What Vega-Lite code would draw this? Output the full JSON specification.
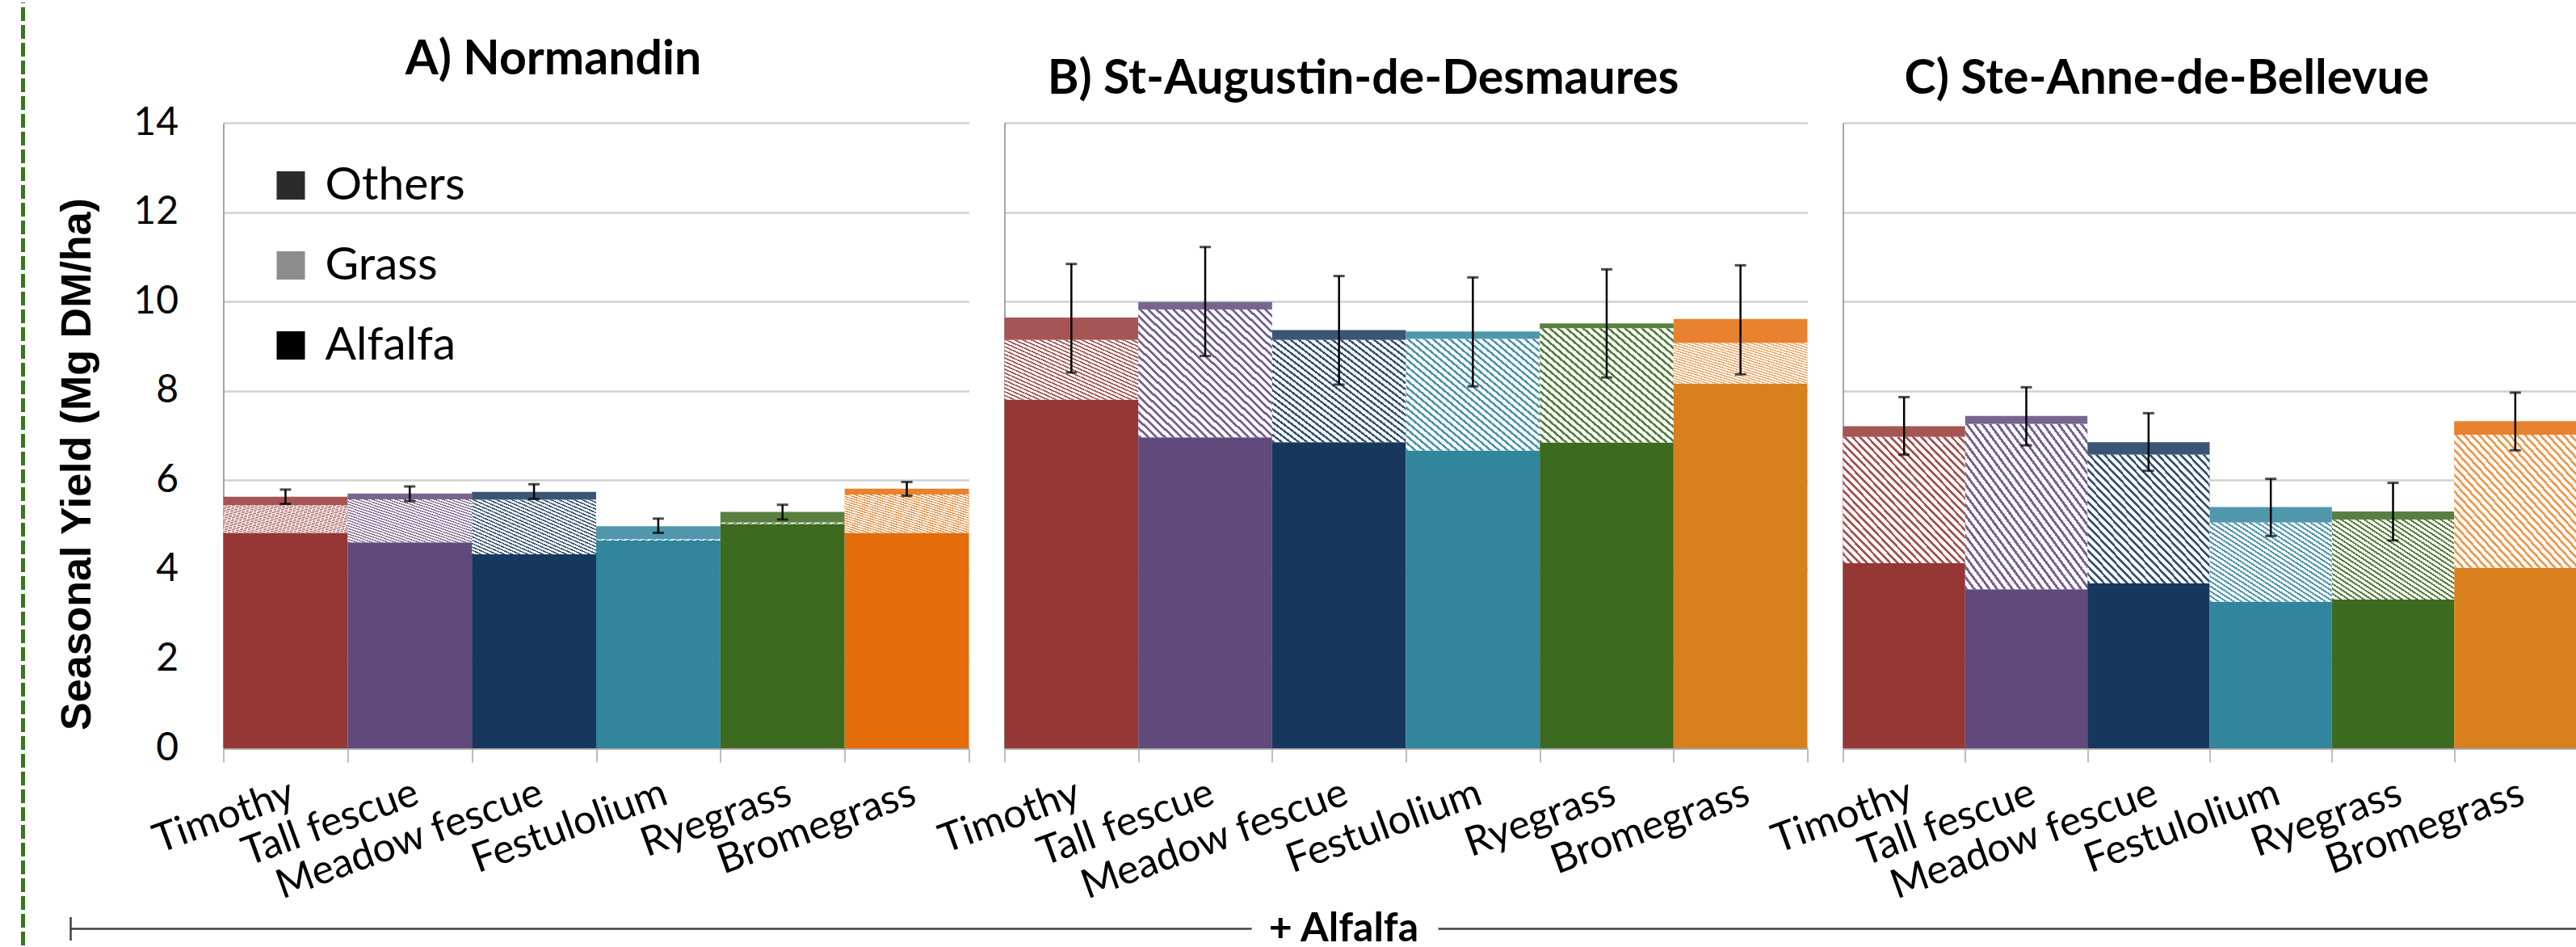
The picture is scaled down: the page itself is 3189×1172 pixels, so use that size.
{
  "$schema": "https://vega.github.io/schema/vega-lite/v6.json",
  "background": "white",
  "autosize": {"type": "pad"},
  "padding": {"left": 25.5, "top": 0, "right": 0, "bottom": 0},
  "config": {"view": {"stroke": null}, "font": "Lato"},
  "datasets": {
    "yield": [
      {"site": "Normandin", "species": "Timothy", "component": "Alfalfa", "yield": 4.82},
      {"site": "Normandin", "species": "Timothy", "component": "Grass", "yield": 0.62},
      {"site": "Normandin", "species": "Timothy", "component": "Others", "yield": 0.19},
      {"site": "Normandin", "species": "Tall fescue", "component": "Alfalfa", "yield": 4.61},
      {"site": "Normandin", "species": "Tall fescue", "component": "Grass", "yield": 0.96},
      {"site": "Normandin", "species": "Tall fescue", "component": "Others", "yield": 0.13},
      {"site": "Normandin", "species": "Meadow fescue", "component": "Alfalfa", "yield": 4.34},
      {"site": "Normandin", "species": "Meadow fescue", "component": "Grass", "yield": 1.22},
      {"site": "Normandin", "species": "Meadow fescue", "component": "Others", "yield": 0.18},
      {"site": "Normandin", "species": "Festulolium", "component": "Alfalfa", "yield": 4.65},
      {"site": "Normandin", "species": "Festulolium", "component": "Grass", "yield": 0.03},
      {"site": "Normandin", "species": "Festulolium", "component": "Others", "yield": 0.29},
      {"site": "Normandin", "species": "Ryegrass", "component": "Alfalfa", "yield": 5.02},
      {"site": "Normandin", "species": "Ryegrass", "component": "Grass", "yield": 0.03},
      {"site": "Normandin", "species": "Ryegrass", "component": "Others", "yield": 0.24},
      {"site": "Normandin", "species": "Bromegrass", "component": "Alfalfa", "yield": 4.82},
      {"site": "Normandin", "species": "Bromegrass", "component": "Grass", "yield": 0.86},
      {"site": "Normandin", "species": "Bromegrass", "component": "Others", "yield": 0.13},
      {"site": "St-Augustin-de-Desmaures", "species": "Timothy", "component": "Alfalfa", "yield": 7.80},
      {"site": "St-Augustin-de-Desmaures", "species": "Timothy", "component": "Grass", "yield": 1.34},
      {"site": "St-Augustin-de-Desmaures", "species": "Timothy", "component": "Others", "yield": 0.50},
      {"site": "St-Augustin-de-Desmaures", "species": "Tall fescue", "component": "Alfalfa", "yield": 6.96},
      {"site": "St-Augustin-de-Desmaures", "species": "Tall fescue", "component": "Grass", "yield": 2.86},
      {"site": "St-Augustin-de-Desmaures", "species": "Tall fescue", "component": "Others", "yield": 0.17},
      {"site": "St-Augustin-de-Desmaures", "species": "Meadow fescue", "component": "Alfalfa", "yield": 6.85},
      {"site": "St-Augustin-de-Desmaures", "species": "Meadow fescue", "component": "Grass", "yield": 2.29},
      {"site": "St-Augustin-de-Desmaures", "species": "Meadow fescue", "component": "Others", "yield": 0.22},
      {"site": "St-Augustin-de-Desmaures", "species": "Festulolium", "component": "Alfalfa", "yield": 6.66},
      {"site": "St-Augustin-de-Desmaures", "species": "Festulolium", "component": "Grass", "yield": 2.50},
      {"site": "St-Augustin-de-Desmaures", "species": "Festulolium", "component": "Others", "yield": 0.17},
      {"site": "St-Augustin-de-Desmaures", "species": "Ryegrass", "component": "Alfalfa", "yield": 6.84},
      {"site": "St-Augustin-de-Desmaures", "species": "Ryegrass", "component": "Grass", "yield": 2.56},
      {"site": "St-Augustin-de-Desmaures", "species": "Ryegrass", "component": "Others", "yield": 0.11},
      {"site": "St-Augustin-de-Desmaures", "species": "Bromegrass", "component": "Alfalfa", "yield": 8.16},
      {"site": "St-Augustin-de-Desmaures", "species": "Bromegrass", "component": "Grass", "yield": 0.91},
      {"site": "St-Augustin-de-Desmaures", "species": "Bromegrass", "component": "Others", "yield": 0.54},
      {"site": "Ste-Anne-de-Bellevue", "species": "Timothy", "component": "Alfalfa", "yield": 4.14},
      {"site": "Ste-Anne-de-Bellevue", "species": "Timothy", "component": "Grass", "yield": 2.83},
      {"site": "Ste-Anne-de-Bellevue", "species": "Timothy", "component": "Others", "yield": 0.24},
      {"site": "Ste-Anne-de-Bellevue", "species": "Tall fescue", "component": "Alfalfa", "yield": 3.56},
      {"site": "Ste-Anne-de-Bellevue", "species": "Tall fescue", "component": "Grass", "yield": 3.70},
      {"site": "Ste-Anne-de-Bellevue", "species": "Tall fescue", "component": "Others", "yield": 0.18},
      {"site": "Ste-Anne-de-Bellevue", "species": "Meadow fescue", "component": "Alfalfa", "yield": 3.69},
      {"site": "Ste-Anne-de-Bellevue", "species": "Meadow fescue", "component": "Grass", "yield": 2.88},
      {"site": "Ste-Anne-de-Bellevue", "species": "Meadow fescue", "component": "Others", "yield": 0.28},
      {"site": "Ste-Anne-de-Bellevue", "species": "Festulolium", "component": "Alfalfa", "yield": 3.28},
      {"site": "Ste-Anne-de-Bellevue", "species": "Festulolium", "component": "Grass", "yield": 1.77},
      {"site": "Ste-Anne-de-Bellevue", "species": "Festulolium", "component": "Others", "yield": 0.35},
      {"site": "Ste-Anne-de-Bellevue", "species": "Ryegrass", "component": "Alfalfa", "yield": 3.33},
      {"site": "Ste-Anne-de-Bellevue", "species": "Ryegrass", "component": "Grass", "yield": 1.79},
      {"site": "Ste-Anne-de-Bellevue", "species": "Ryegrass", "component": "Others", "yield": 0.18},
      {"site": "Ste-Anne-de-Bellevue", "species": "Bromegrass", "component": "Alfalfa", "yield": 4.04},
      {"site": "Ste-Anne-de-Bellevue", "species": "Bromegrass", "component": "Grass", "yield": 2.98},
      {"site": "Ste-Anne-de-Bellevue", "species": "Bromegrass", "component": "Others", "yield": 0.30}
    ],
    "err": [
      {"site": "Normandin", "species": "Timothy", "lo": 5.47, "hi": 5.79},
      {"site": "Normandin", "species": "Tall fescue", "lo": 5.53, "hi": 5.86},
      {"site": "Normandin", "species": "Meadow fescue", "lo": 5.58, "hi": 5.91},
      {"site": "Normandin", "species": "Festulolium", "lo": 4.82, "hi": 5.14},
      {"site": "Normandin", "species": "Ryegrass", "lo": 5.12, "hi": 5.45},
      {"site": "Normandin", "species": "Bromegrass", "lo": 5.65, "hi": 5.96},
      {"site": "St-Augustin-de-Desmaures", "species": "Timothy", "lo": 8.41, "hi": 10.84},
      {"site": "St-Augustin-de-Desmaures", "species": "Tall fescue", "lo": 8.78, "hi": 11.22},
      {"site": "St-Augustin-de-Desmaures", "species": "Meadow fescue", "lo": 8.14, "hi": 10.57},
      {"site": "St-Augustin-de-Desmaures", "species": "Festulolium", "lo": 8.10, "hi": 10.54},
      {"site": "St-Augustin-de-Desmaures", "species": "Ryegrass", "lo": 8.30, "hi": 10.72},
      {"site": "St-Augustin-de-Desmaures", "species": "Bromegrass", "lo": 8.37, "hi": 10.81},
      {"site": "Ste-Anne-de-Bellevue", "species": "Timothy", "lo": 6.57, "hi": 7.86},
      {"site": "Ste-Anne-de-Bellevue", "species": "Tall fescue", "lo": 6.78, "hi": 8.08},
      {"site": "Ste-Anne-de-Bellevue", "species": "Meadow fescue", "lo": 6.21, "hi": 7.50},
      {"site": "Ste-Anne-de-Bellevue", "species": "Festulolium", "lo": 4.75, "hi": 6.03},
      {"site": "Ste-Anne-de-Bellevue", "species": "Ryegrass", "lo": 4.65, "hi": 5.94},
      {"site": "Ste-Anne-de-Bellevue", "species": "Bromegrass", "lo": 6.67, "hi": 7.96}
    ],
    "bracket": [{"label": "+ Alfalfa"}],
    "border": [{"edge": "figure"}]
  },
  "spacing": 38,
  "hconcat": [
    {
      "width": 1,
      "height": 1167,
      "data": {"name": "border"},
      "mark": {"type": "rule", "color": "#38761d", "strokeWidth": 5, "strokeDash": [17, 5]},
      "encoding": {
        "x": {"datum": 0, "type": "quantitative", "scale": {"domain": [0, 1]}, "axis": null},
        "y": {"datum": 0, "type": "quantitative", "scale": {"domain": [0, 1]}, "axis": null},
        "y2": {"datum": 1}
      }
    },
    {
      "spacing": 2,
      "vconcat": [
        {"width": 1, "height": 40, "data": {"values": []}, "mark": "point"},
        {
          "spacing": 44,
          "bounds": "flush",
          "resolve": {"scale": {"color": "independent"}, "legend": {"color": "independent"}},
          "hconcat": [
            {
              "width": 923,
              "height": 774,
              "title": {"text": "A) Normandin", "font": "Lato", "fontSize": 59, "fontWeight": "bold", "color": "black", "anchor": "middle", "dx": -53, "offset": 24},
              "encoding": {
                "x": {
                  "field": "species", "type": "nominal",
                  "sort": ["Timothy", "Tall fescue", "Meadow fescue", "Festulolium", "Ryegrass", "Bromegrass"],
                  "scale": {"paddingInner": 0, "paddingOuter": 0},
                  "axis": {"title": null, "labelAngle": -20, "labelAlign": "right", "labelBaseline": "top", "labelFont": "Lato", "labelFontSize": 50, "labelColor": "black", "labelPadding": 13, "labelLimit": 600, "labelOverlap": false, "ticks": true, "tickSize": 17, "tickColor": "#a6a6a6", "tickWidth": 1.5, "tickBand": "extent", "domain": true, "domainColor": "#a6a6a6", "domainWidth": 2.5, "grid": false}
                }
              },
              "layer": [
                {
                  "data": {"name": "yield"},
                  "transform": [{"filter": "datum.site === 'Normandin'"}],
                  "mark": {"type": "bar"},
                  "encoding": {
                    "y": {
                      "field": "yield", "type": "quantitative", "stack": "zero",
                      "scale": {"domain": [0, 14], "nice": false},
                      "title": "Seasonal Yield (Mg DM/ha)",
                      "axis": {"values": [0, 2, 4, 6, 8, 10, 12, 14], "format": "d", "grid": true, "gridColor": "#d0d0d0", "gridWidth": 2.5, "domain": true, "domainColor": "#a6a6a6", "domainWidth": 2, "ticks": false, "tickSize": 0, "labelFont": "Lato", "labelFontSize": 48, "labelColor": "black", "labelPadding": 56, "titleFont": "Liberation Sans", "titleFontSize": 52, "titleFontWeight": "bold", "titleColor": "black", "titlePadding": 42, "titleY": 422}
                    },
                    "order": {"field": "component", "sort": "ascending"},
                    "color": {
                      "field": "component", "type": "nominal",
                      "scale": {"domain": ["Others", "Grass", "Alfalfa"], "range": ["#2b2b2b", "#8c8c8c", "#000000"]},
                      "legend": {"title": null, "orient": "none", "legendX": 55, "legendY": 49, "symbolType": "square", "symbolSize": 1225, "symbolStrokeWidth": 0, "labelFont": "Lato", "labelFontSize": 57, "labelColor": "black", "labelOffset": 14, "rowPadding": 41, "padding": 0, "labelLimit": 500},
                      "condition": [
                        {"test": "datum.species==='Timothy'&&datum.component==='Alfalfa'", "value": "#953735"},
                        {"test": "datum.species==='Timothy'&&datum.component==='Grass'", "value": "#A55553"},
                        {"test": "datum.species==='Timothy'&&datum.component==='Others'", "value": "#A55553"},
                        {"test": "datum.species==='Tall fescue'&&datum.component==='Alfalfa'", "value": "#604A7B"},
                        {"test": "datum.species==='Tall fescue'&&datum.component==='Grass'", "value": "#78658F"},
                        {"test": "datum.species==='Tall fescue'&&datum.component==='Others'", "value": "#78658F"},
                        {"test": "datum.species==='Meadow fescue'&&datum.component==='Alfalfa'", "value": "#17375E"},
                        {"test": "datum.species==='Meadow fescue'&&datum.component==='Grass'", "value": "#3A5576"},
                        {"test": "datum.species==='Meadow fescue'&&datum.component==='Others'", "value": "#3A5576"},
                        {"test": "datum.species==='Festulolium'&&datum.component==='Alfalfa'", "value": "#31859C"},
                        {"test": "datum.species==='Festulolium'&&datum.component==='Grass'", "value": "#5097AB"},
                        {"test": "datum.species==='Festulolium'&&datum.component==='Others'", "value": "#5097AB"},
                        {"test": "datum.species==='Ryegrass'&&datum.component==='Alfalfa'", "value": "#3C6A1F"},
                        {"test": "datum.species==='Ryegrass'&&datum.component==='Grass'", "value": "#598041"},
                        {"test": "datum.species==='Ryegrass'&&datum.component==='Others'", "value": "#598041"},
                        {"test": "datum.species==='Bromegrass'&&datum.component==='Alfalfa'", "value": "#E46C0A"},
                        {"test": "datum.species==='Bromegrass'&&datum.component==='Grass'", "value": "#E8822F"},
                        {"test": "datum.species==='Bromegrass'&&datum.component==='Others'", "value": "#E8822F"}
                      ]
                    }
                  }
                },
                {
                  "data": {"name": "yield"},
                  "transform": [{"filter": "datum.site === 'Normandin'"}],
                  "mark": {"type": "bar"},
                  "encoding": {
                    "y": {"field": "yield", "type": "quantitative", "stack": "zero", "title": "Seasonal Yield (Mg DM/ha)"},
                    "detail": {"field": "component"},
                    "order": {"field": "component", "sort": "ascending"},
                    "color": {
                      "condition": {"test": "datum.component === 'Grass'", "value": {"gradient": "linear", "x1": 0, "y1": 1, "x2": 1, "y2": 0, "stops": [
                        {"offset": 0, "color": "rgba(255,255,255,0)"}, {"offset": 0.0125, "color": "rgba(255,255,255,0)"}, {"offset": 0.0125, "color": "#fff"}, {"offset": 0.03125, "color": "#fff"},
                        {"offset": 0.03125, "color": "rgba(255,255,255,0)"}, {"offset": 0.04375, "color": "rgba(255,255,255,0)"}, {"offset": 0.04375, "color": "#fff"}, {"offset": 0.0625, "color": "#fff"},
                        {"offset": 0.0625, "color": "rgba(255,255,255,0)"}, {"offset": 0.075, "color": "rgba(255,255,255,0)"}, {"offset": 0.075, "color": "#fff"}, {"offset": 0.09375, "color": "#fff"},
                        {"offset": 0.09375, "color": "rgba(255,255,255,0)"}, {"offset": 0.10625, "color": "rgba(255,255,255,0)"}, {"offset": 0.10625, "color": "#fff"}, {"offset": 0.125, "color": "#fff"},
                        {"offset": 0.125, "color": "rgba(255,255,255,0)"}, {"offset": 0.1375, "color": "rgba(255,255,255,0)"}, {"offset": 0.1375, "color": "#fff"}, {"offset": 0.15625, "color": "#fff"},
                        {"offset": 0.15625, "color": "rgba(255,255,255,0)"}, {"offset": 0.16875, "color": "rgba(255,255,255,0)"}, {"offset": 0.16875, "color": "#fff"}, {"offset": 0.1875, "color": "#fff"},
                        {"offset": 0.1875, "color": "rgba(255,255,255,0)"}, {"offset": 0.2, "color": "rgba(255,255,255,0)"}, {"offset": 0.2, "color": "#fff"}, {"offset": 0.21875, "color": "#fff"},
                        {"offset": 0.21875, "color": "rgba(255,255,255,0)"}, {"offset": 0.23125, "color": "rgba(255,255,255,0)"}, {"offset": 0.23125, "color": "#fff"}, {"offset": 0.25, "color": "#fff"},
                        {"offset": 0.25, "color": "rgba(255,255,255,0)"}, {"offset": 0.2625, "color": "rgba(255,255,255,0)"}, {"offset": 0.2625, "color": "#fff"}, {"offset": 0.28125, "color": "#fff"},
                        {"offset": 0.28125, "color": "rgba(255,255,255,0)"}, {"offset": 0.29375, "color": "rgba(255,255,255,0)"}, {"offset": 0.29375, "color": "#fff"}, {"offset": 0.3125, "color": "#fff"},
                        {"offset": 0.3125, "color": "rgba(255,255,255,0)"}, {"offset": 0.325, "color": "rgba(255,255,255,0)"}, {"offset": 0.325, "color": "#fff"}, {"offset": 0.34375, "color": "#fff"},
                        {"offset": 0.34375, "color": "rgba(255,255,255,0)"}, {"offset": 0.35625, "color": "rgba(255,255,255,0)"}, {"offset": 0.35625, "color": "#fff"}, {"offset": 0.375, "color": "#fff"},
                        {"offset": 0.375, "color": "rgba(255,255,255,0)"}, {"offset": 0.3875, "color": "rgba(255,255,255,0)"}, {"offset": 0.3875, "color": "#fff"}, {"offset": 0.40625, "color": "#fff"},
                        {"offset": 0.40625, "color": "rgba(255,255,255,0)"}, {"offset": 0.41875, "color": "rgba(255,255,255,0)"}, {"offset": 0.41875, "color": "#fff"}, {"offset": 0.4375, "color": "#fff"},
                        {"offset": 0.4375, "color": "rgba(255,255,255,0)"}, {"offset": 0.45, "color": "rgba(255,255,255,0)"}, {"offset": 0.45, "color": "#fff"}, {"offset": 0.46875, "color": "#fff"},
                        {"offset": 0.46875, "color": "rgba(255,255,255,0)"}, {"offset": 0.48125, "color": "rgba(255,255,255,0)"}, {"offset": 0.48125, "color": "#fff"}, {"offset": 0.5, "color": "#fff"},
                        {"offset": 0.5, "color": "rgba(255,255,255,0)"}, {"offset": 0.5125, "color": "rgba(255,255,255,0)"}, {"offset": 0.5125, "color": "#fff"}, {"offset": 0.53125, "color": "#fff"},
                        {"offset": 0.53125, "color": "rgba(255,255,255,0)"}, {"offset": 0.54375, "color": "rgba(255,255,255,0)"}, {"offset": 0.54375, "color": "#fff"}, {"offset": 0.5625, "color": "#fff"},
                        {"offset": 0.5625, "color": "rgba(255,255,255,0)"}, {"offset": 0.575, "color": "rgba(255,255,255,0)"}, {"offset": 0.575, "color": "#fff"}, {"offset": 0.59375, "color": "#fff"},
                        {"offset": 0.59375, "color": "rgba(255,255,255,0)"}, {"offset": 0.60625, "color": "rgba(255,255,255,0)"}, {"offset": 0.60625, "color": "#fff"}, {"offset": 0.625, "color": "#fff"},
                        {"offset": 0.625, "color": "rgba(255,255,255,0)"}, {"offset": 0.6375, "color": "rgba(255,255,255,0)"}, {"offset": 0.6375, "color": "#fff"}, {"offset": 0.65625, "color": "#fff"},
                        {"offset": 0.65625, "color": "rgba(255,255,255,0)"}, {"offset": 0.66875, "color": "rgba(255,255,255,0)"}, {"offset": 0.66875, "color": "#fff"}, {"offset": 0.6875, "color": "#fff"},
                        {"offset": 0.6875, "color": "rgba(255,255,255,0)"}, {"offset": 0.7, "color": "rgba(255,255,255,0)"}, {"offset": 0.7, "color": "#fff"}, {"offset": 0.71875, "color": "#fff"},
                        {"offset": 0.71875, "color": "rgba(255,255,255,0)"}, {"offset": 0.73125, "color": "rgba(255,255,255,0)"}, {"offset": 0.73125, "color": "#fff"}, {"offset": 0.75, "color": "#fff"},
                        {"offset": 0.75, "color": "rgba(255,255,255,0)"}, {"offset": 0.7625, "color": "rgba(255,255,255,0)"}, {"offset": 0.7625, "color": "#fff"}, {"offset": 0.78125, "color": "#fff"},
                        {"offset": 0.78125, "color": "rgba(255,255,255,0)"}, {"offset": 0.79375, "color": "rgba(255,255,255,0)"}, {"offset": 0.79375, "color": "#fff"}, {"offset": 0.8125, "color": "#fff"},
                        {"offset": 0.8125, "color": "rgba(255,255,255,0)"}, {"offset": 0.825, "color": "rgba(255,255,255,0)"}, {"offset": 0.825, "color": "#fff"}, {"offset": 0.84375, "color": "#fff"},
                        {"offset": 0.84375, "color": "rgba(255,255,255,0)"}, {"offset": 0.85625, "color": "rgba(255,255,255,0)"}, {"offset": 0.85625, "color": "#fff"}, {"offset": 0.875, "color": "#fff"},
                        {"offset": 0.875, "color": "rgba(255,255,255,0)"}, {"offset": 0.8875, "color": "rgba(255,255,255,0)"}, {"offset": 0.8875, "color": "#fff"}, {"offset": 0.90625, "color": "#fff"},
                        {"offset": 0.90625, "color": "rgba(255,255,255,0)"}, {"offset": 0.91875, "color": "rgba(255,255,255,0)"}, {"offset": 0.91875, "color": "#fff"}, {"offset": 0.9375, "color": "#fff"},
                        {"offset": 0.9375, "color": "rgba(255,255,255,0)"}, {"offset": 0.95, "color": "rgba(255,255,255,0)"}, {"offset": 0.95, "color": "#fff"}, {"offset": 0.96875, "color": "#fff"},
                        {"offset": 0.96875, "color": "rgba(255,255,255,0)"}, {"offset": 0.98125, "color": "rgba(255,255,255,0)"}, {"offset": 0.98125, "color": "#fff"}, {"offset": 1, "color": "#fff"}
                      ]}},
                      "value": "transparent"
                    }
                  }
                },
                {
                  "data": {"name": "err"},
                  "transform": [{"filter": "datum.site === 'Normandin'"}],
                  "mark": {"type": "rule", "color": "black", "strokeWidth": 2.5},
                  "encoding": {"y": {"field": "lo", "type": "quantitative", "title": "Seasonal Yield (Mg DM/ha)"}, "y2": {"field": "hi"}}
                },
                {
                  "data": {"name": "err"},
                  "transform": [{"filter": "datum.site === 'Normandin'"}],
                  "mark": {"type": "tick", "color": "black", "thickness": 3, "size": 14},
                  "encoding": {"y": {"field": "lo", "type": "quantitative", "title": "Seasonal Yield (Mg DM/ha)"}}
                },
                {
                  "data": {"name": "err"},
                  "transform": [{"filter": "datum.site === 'Normandin'"}],
                  "mark": {"type": "tick", "color": "black", "thickness": 3, "size": 14},
                  "encoding": {"y": {"field": "hi", "type": "quantitative", "title": "Seasonal Yield (Mg DM/ha)"}}
                }
              ]
            },
            {
              "width": 994,
              "height": 774,
              "title": {"text": "B) St-Augustin-de-Desmaures", "font": "Lato", "fontSize": 59, "fontWeight": "bold", "color": "black", "anchor": "middle", "dx": -53, "offset": 24},
              "encoding": {
                "x": {
                  "field": "species", "type": "nominal",
                  "sort": ["Timothy", "Tall fescue", "Meadow fescue", "Festulolium", "Ryegrass", "Bromegrass"],
                  "scale": {"paddingInner": 0, "paddingOuter": 0},
                  "axis": {"title": null, "labelAngle": -20, "labelAlign": "right", "labelBaseline": "top", "labelFont": "Lato", "labelFontSize": 50, "labelColor": "black", "labelPadding": 13, "labelLimit": 600, "labelOverlap": false, "ticks": true, "tickSize": 17, "tickColor": "#a6a6a6", "tickWidth": 1.5, "tickBand": "extent", "domain": true, "domainColor": "#a6a6a6", "domainWidth": 2.5, "grid": false}
                }
              },
              "layer": [
                {
                  "data": {"name": "yield"},
                  "transform": [{"filter": "datum.site === 'St-Augustin-de-Desmaures'"}],
                  "mark": {"type": "bar"},
                  "encoding": {
                    "y": {
                      "field": "yield", "type": "quantitative", "stack": "zero",
                      "scale": {"domain": [0, 14], "nice": false},
                      "title": null,
                      "axis": {"values": [0, 2, 4, 6, 8, 10, 12, 14], "grid": true, "gridColor": "#d0d0d0", "gridWidth": 2.5, "domain": true, "domainColor": "#a6a6a6", "domainWidth": 2, "ticks": false, "tickSize": 0, "labels": false, "title": null}
                    },
                    "order": {"field": "component", "sort": "ascending"},
                    "color": {
                      "field": "component", "type": "nominal",
                      "scale": {"domain": ["Others", "Grass", "Alfalfa"], "range": ["#2b2b2b", "#8c8c8c", "#000000"]},
                      "legend": null,
                      "condition": [
                        {"test": "datum.species==='Timothy'&&datum.component==='Alfalfa'", "value": "#953735"},
                        {"test": "datum.species==='Timothy'&&datum.component==='Grass'", "value": "#A55553"},
                        {"test": "datum.species==='Timothy'&&datum.component==='Others'", "value": "#A55553"},
                        {"test": "datum.species==='Tall fescue'&&datum.component==='Alfalfa'", "value": "#604A7B"},
                        {"test": "datum.species==='Tall fescue'&&datum.component==='Grass'", "value": "#78658F"},
                        {"test": "datum.species==='Tall fescue'&&datum.component==='Others'", "value": "#78658F"},
                        {"test": "datum.species==='Meadow fescue'&&datum.component==='Alfalfa'", "value": "#17375E"},
                        {"test": "datum.species==='Meadow fescue'&&datum.component==='Grass'", "value": "#3A5576"},
                        {"test": "datum.species==='Meadow fescue'&&datum.component==='Others'", "value": "#3A5576"},
                        {"test": "datum.species==='Festulolium'&&datum.component==='Alfalfa'", "value": "#31859C"},
                        {"test": "datum.species==='Festulolium'&&datum.component==='Grass'", "value": "#5097AB"},
                        {"test": "datum.species==='Festulolium'&&datum.component==='Others'", "value": "#5097AB"},
                        {"test": "datum.species==='Ryegrass'&&datum.component==='Alfalfa'", "value": "#3C6A1F"},
                        {"test": "datum.species==='Ryegrass'&&datum.component==='Grass'", "value": "#598041"},
                        {"test": "datum.species==='Ryegrass'&&datum.component==='Others'", "value": "#598041"},
                        {"test": "datum.species==='Bromegrass'&&datum.component==='Alfalfa'", "value": "#D8801E"},
                        {"test": "datum.species==='Bromegrass'&&datum.component==='Grass'", "value": "#F09A50"},
                        {"test": "datum.species==='Bromegrass'&&datum.component==='Others'", "value": "#E8822F"}
                      ]
                    }
                  }
                },
                {
                  "data": {"name": "yield"},
                  "transform": [{"filter": "datum.site === 'St-Augustin-de-Desmaures'"}],
                  "mark": {"type": "bar"},
                  "encoding": {
                    "y": {"field": "yield", "type": "quantitative", "stack": "zero", "title": null},
                    "detail": {"field": "component"},
                    "order": {"field": "component", "sort": "ascending"},
                    "color": {
                      "condition": {"test": "datum.component === 'Grass'", "value": {"gradient": "linear", "x1": 0, "y1": 1, "x2": 1, "y2": 0, "stops": [
                        {"offset": 0, "color": "rgba(255,255,255,0)"}, {"offset": 0.0125, "color": "rgba(255,255,255,0)"}, {"offset": 0.0125, "color": "#fff"}, {"offset": 0.03125, "color": "#fff"},
                        {"offset": 0.03125, "color": "rgba(255,255,255,0)"}, {"offset": 0.04375, "color": "rgba(255,255,255,0)"}, {"offset": 0.04375, "color": "#fff"}, {"offset": 0.0625, "color": "#fff"},
                        {"offset": 0.0625, "color": "rgba(255,255,255,0)"}, {"offset": 0.075, "color": "rgba(255,255,255,0)"}, {"offset": 0.075, "color": "#fff"}, {"offset": 0.09375, "color": "#fff"},
                        {"offset": 0.09375, "color": "rgba(255,255,255,0)"}, {"offset": 0.10625, "color": "rgba(255,255,255,0)"}, {"offset": 0.10625, "color": "#fff"}, {"offset": 0.125, "color": "#fff"},
                        {"offset": 0.125, "color": "rgba(255,255,255,0)"}, {"offset": 0.1375, "color": "rgba(255,255,255,0)"}, {"offset": 0.1375, "color": "#fff"}, {"offset": 0.15625, "color": "#fff"},
                        {"offset": 0.15625, "color": "rgba(255,255,255,0)"}, {"offset": 0.16875, "color": "rgba(255,255,255,0)"}, {"offset": 0.16875, "color": "#fff"}, {"offset": 0.1875, "color": "#fff"},
                        {"offset": 0.1875, "color": "rgba(255,255,255,0)"}, {"offset": 0.2, "color": "rgba(255,255,255,0)"}, {"offset": 0.2, "color": "#fff"}, {"offset": 0.21875, "color": "#fff"},
                        {"offset": 0.21875, "color": "rgba(255,255,255,0)"}, {"offset": 0.23125, "color": "rgba(255,255,255,0)"}, {"offset": 0.23125, "color": "#fff"}, {"offset": 0.25, "color": "#fff"},
                        {"offset": 0.25, "color": "rgba(255,255,255,0)"}, {"offset": 0.2625, "color": "rgba(255,255,255,0)"}, {"offset": 0.2625, "color": "#fff"}, {"offset": 0.28125, "color": "#fff"},
                        {"offset": 0.28125, "color": "rgba(255,255,255,0)"}, {"offset": 0.29375, "color": "rgba(255,255,255,0)"}, {"offset": 0.29375, "color": "#fff"}, {"offset": 0.3125, "color": "#fff"},
                        {"offset": 0.3125, "color": "rgba(255,255,255,0)"}, {"offset": 0.325, "color": "rgba(255,255,255,0)"}, {"offset": 0.325, "color": "#fff"}, {"offset": 0.34375, "color": "#fff"},
                        {"offset": 0.34375, "color": "rgba(255,255,255,0)"}, {"offset": 0.35625, "color": "rgba(255,255,255,0)"}, {"offset": 0.35625, "color": "#fff"}, {"offset": 0.375, "color": "#fff"},
                        {"offset": 0.375, "color": "rgba(255,255,255,0)"}, {"offset": 0.3875, "color": "rgba(255,255,255,0)"}, {"offset": 0.3875, "color": "#fff"}, {"offset": 0.40625, "color": "#fff"},
                        {"offset": 0.40625, "color": "rgba(255,255,255,0)"}, {"offset": 0.41875, "color": "rgba(255,255,255,0)"}, {"offset": 0.41875, "color": "#fff"}, {"offset": 0.4375, "color": "#fff"},
                        {"offset": 0.4375, "color": "rgba(255,255,255,0)"}, {"offset": 0.45, "color": "rgba(255,255,255,0)"}, {"offset": 0.45, "color": "#fff"}, {"offset": 0.46875, "color": "#fff"},
                        {"offset": 0.46875, "color": "rgba(255,255,255,0)"}, {"offset": 0.48125, "color": "rgba(255,255,255,0)"}, {"offset": 0.48125, "color": "#fff"}, {"offset": 0.5, "color": "#fff"},
                        {"offset": 0.5, "color": "rgba(255,255,255,0)"}, {"offset": 0.5125, "color": "rgba(255,255,255,0)"}, {"offset": 0.5125, "color": "#fff"}, {"offset": 0.53125, "color": "#fff"},
                        {"offset": 0.53125, "color": "rgba(255,255,255,0)"}, {"offset": 0.54375, "color": "rgba(255,255,255,0)"}, {"offset": 0.54375, "color": "#fff"}, {"offset": 0.5625, "color": "#fff"},
                        {"offset": 0.5625, "color": "rgba(255,255,255,0)"}, {"offset": 0.575, "color": "rgba(255,255,255,0)"}, {"offset": 0.575, "color": "#fff"}, {"offset": 0.59375, "color": "#fff"},
                        {"offset": 0.59375, "color": "rgba(255,255,255,0)"}, {"offset": 0.60625, "color": "rgba(255,255,255,0)"}, {"offset": 0.60625, "color": "#fff"}, {"offset": 0.625, "color": "#fff"},
                        {"offset": 0.625, "color": "rgba(255,255,255,0)"}, {"offset": 0.6375, "color": "rgba(255,255,255,0)"}, {"offset": 0.6375, "color": "#fff"}, {"offset": 0.65625, "color": "#fff"},
                        {"offset": 0.65625, "color": "rgba(255,255,255,0)"}, {"offset": 0.66875, "color": "rgba(255,255,255,0)"}, {"offset": 0.66875, "color": "#fff"}, {"offset": 0.6875, "color": "#fff"},
                        {"offset": 0.6875, "color": "rgba(255,255,255,0)"}, {"offset": 0.7, "color": "rgba(255,255,255,0)"}, {"offset": 0.7, "color": "#fff"}, {"offset": 0.71875, "color": "#fff"},
                        {"offset": 0.71875, "color": "rgba(255,255,255,0)"}, {"offset": 0.73125, "color": "rgba(255,255,255,0)"}, {"offset": 0.73125, "color": "#fff"}, {"offset": 0.75, "color": "#fff"},
                        {"offset": 0.75, "color": "rgba(255,255,255,0)"}, {"offset": 0.7625, "color": "rgba(255,255,255,0)"}, {"offset": 0.7625, "color": "#fff"}, {"offset": 0.78125, "color": "#fff"},
                        {"offset": 0.78125, "color": "rgba(255,255,255,0)"}, {"offset": 0.79375, "color": "rgba(255,255,255,0)"}, {"offset": 0.79375, "color": "#fff"}, {"offset": 0.8125, "color": "#fff"},
                        {"offset": 0.8125, "color": "rgba(255,255,255,0)"}, {"offset": 0.825, "color": "rgba(255,255,255,0)"}, {"offset": 0.825, "color": "#fff"}, {"offset": 0.84375, "color": "#fff"},
                        {"offset": 0.84375, "color": "rgba(255,255,255,0)"}, {"offset": 0.85625, "color": "rgba(255,255,255,0)"}, {"offset": 0.85625, "color": "#fff"}, {"offset": 0.875, "color": "#fff"},
                        {"offset": 0.875, "color": "rgba(255,255,255,0)"}, {"offset": 0.8875, "color": "rgba(255,255,255,0)"}, {"offset": 0.8875, "color": "#fff"}, {"offset": 0.90625, "color": "#fff"},
                        {"offset": 0.90625, "color": "rgba(255,255,255,0)"}, {"offset": 0.91875, "color": "rgba(255,255,255,0)"}, {"offset": 0.91875, "color": "#fff"}, {"offset": 0.9375, "color": "#fff"},
                        {"offset": 0.9375, "color": "rgba(255,255,255,0)"}, {"offset": 0.95, "color": "rgba(255,255,255,0)"}, {"offset": 0.95, "color": "#fff"}, {"offset": 0.96875, "color": "#fff"},
                        {"offset": 0.96875, "color": "rgba(255,255,255,0)"}, {"offset": 0.98125, "color": "rgba(255,255,255,0)"}, {"offset": 0.98125, "color": "#fff"}, {"offset": 1, "color": "#fff"}
                      ]}},
                      "value": "transparent"
                    }
                  }
                },
                {
                  "data": {"name": "err"},
                  "transform": [{"filter": "datum.site === 'St-Augustin-de-Desmaures'"}],
                  "mark": {"type": "rule", "color": "black", "strokeWidth": 2.5},
                  "encoding": {"y": {"field": "lo", "type": "quantitative", "title": null}, "y2": {"field": "hi"}}
                },
                {
                  "data": {"name": "err"},
                  "transform": [{"filter": "datum.site === 'St-Augustin-de-Desmaures'"}],
                  "mark": {"type": "tick", "color": "black", "thickness": 3, "size": 14},
                  "encoding": {"y": {"field": "lo", "type": "quantitative", "title": null}}
                },
                {
                  "data": {"name": "err"},
                  "transform": [{"filter": "datum.site === 'St-Augustin-de-Desmaures'"}],
                  "mark": {"type": "tick", "color": "black", "thickness": 3, "size": 14},
                  "encoding": {"y": {"field": "hi", "type": "quantitative", "title": null}}
                }
              ]
            },
            {
              "width": 908,
              "height": 774,
              "title": {"text": "C) Ste-Anne-de-Bellevue", "font": "Lato", "fontSize": 59, "fontWeight": "bold", "color": "black", "anchor": "middle", "dx": -53, "offset": 24},
              "encoding": {
                "x": {
                  "field": "species", "type": "nominal",
                  "sort": ["Timothy", "Tall fescue", "Meadow fescue", "Festulolium", "Ryegrass", "Bromegrass"],
                  "scale": {"paddingInner": 0, "paddingOuter": 0},
                  "axis": {"title": null, "labelAngle": -20, "labelAlign": "right", "labelBaseline": "top", "labelFont": "Lato", "labelFontSize": 50, "labelColor": "black", "labelPadding": 13, "labelLimit": 600, "labelOverlap": false, "ticks": true, "tickSize": 17, "tickColor": "#a6a6a6", "tickWidth": 1.5, "tickBand": "extent", "domain": true, "domainColor": "#a6a6a6", "domainWidth": 2.5, "grid": false}
                }
              },
              "layer": [
                {
                  "data": {"name": "yield"},
                  "transform": [{"filter": "datum.site === 'Ste-Anne-de-Bellevue'"}],
                  "mark": {"type": "bar"},
                  "encoding": {
                    "y": {
                      "field": "yield", "type": "quantitative", "stack": "zero",
                      "scale": {"domain": [0, 14], "nice": false},
                      "title": null,
                      "axis": {"values": [0, 2, 4, 6, 8, 10, 12, 14], "grid": true, "gridColor": "#d0d0d0", "gridWidth": 2.5, "domain": true, "domainColor": "#a6a6a6", "domainWidth": 2, "ticks": false, "tickSize": 0, "labels": false, "title": null}
                    },
                    "order": {"field": "component", "sort": "ascending"},
                    "color": {
                      "field": "component", "type": "nominal",
                      "scale": {"domain": ["Others", "Grass", "Alfalfa"], "range": ["#2b2b2b", "#8c8c8c", "#000000"]},
                      "legend": null,
                      "condition": [
                        {"test": "datum.species==='Timothy'&&datum.component==='Alfalfa'", "value": "#953735"},
                        {"test": "datum.species==='Timothy'&&datum.component==='Grass'", "value": "#A55553"},
                        {"test": "datum.species==='Timothy'&&datum.component==='Others'", "value": "#A55553"},
                        {"test": "datum.species==='Tall fescue'&&datum.component==='Alfalfa'", "value": "#604A7B"},
                        {"test": "datum.species==='Tall fescue'&&datum.component==='Grass'", "value": "#78658F"},
                        {"test": "datum.species==='Tall fescue'&&datum.component==='Others'", "value": "#78658F"},
                        {"test": "datum.species==='Meadow fescue'&&datum.component==='Alfalfa'", "value": "#17375E"},
                        {"test": "datum.species==='Meadow fescue'&&datum.component==='Grass'", "value": "#3A5576"},
                        {"test": "datum.species==='Meadow fescue'&&datum.component==='Others'", "value": "#3A5576"},
                        {"test": "datum.species==='Festulolium'&&datum.component==='Alfalfa'", "value": "#31859C"},
                        {"test": "datum.species==='Festulolium'&&datum.component==='Grass'", "value": "#5097AB"},
                        {"test": "datum.species==='Festulolium'&&datum.component==='Others'", "value": "#5097AB"},
                        {"test": "datum.species==='Ryegrass'&&datum.component==='Alfalfa'", "value": "#3C6A1F"},
                        {"test": "datum.species==='Ryegrass'&&datum.component==='Grass'", "value": "#598041"},
                        {"test": "datum.species==='Ryegrass'&&datum.component==='Others'", "value": "#598041"},
                        {"test": "datum.species==='Bromegrass'&&datum.component==='Alfalfa'", "value": "#D8801E"},
                        {"test": "datum.species==='Bromegrass'&&datum.component==='Grass'", "value": "#F09A50"},
                        {"test": "datum.species==='Bromegrass'&&datum.component==='Others'", "value": "#E8822F"}
                      ]
                    }
                  }
                },
                {
                  "data": {"name": "yield"},
                  "transform": [{"filter": "datum.site === 'Ste-Anne-de-Bellevue'"}],
                  "mark": {"type": "bar"},
                  "encoding": {
                    "y": {"field": "yield", "type": "quantitative", "stack": "zero", "title": null},
                    "detail": {"field": "component"},
                    "order": {"field": "component", "sort": "ascending"},
                    "color": {
                      "condition": {"test": "datum.component === 'Grass'", "value": {"gradient": "linear", "x1": 0, "y1": 1, "x2": 1, "y2": 0, "stops": [
                        {"offset": 0, "color": "rgba(255,255,255,0)"}, {"offset": 0.0125, "color": "rgba(255,255,255,0)"}, {"offset": 0.0125, "color": "#fff"}, {"offset": 0.03125, "color": "#fff"},
                        {"offset": 0.03125, "color": "rgba(255,255,255,0)"}, {"offset": 0.04375, "color": "rgba(255,255,255,0)"}, {"offset": 0.04375, "color": "#fff"}, {"offset": 0.0625, "color": "#fff"},
                        {"offset": 0.0625, "color": "rgba(255,255,255,0)"}, {"offset": 0.075, "color": "rgba(255,255,255,0)"}, {"offset": 0.075, "color": "#fff"}, {"offset": 0.09375, "color": "#fff"},
                        {"offset": 0.09375, "color": "rgba(255,255,255,0)"}, {"offset": 0.10625, "color": "rgba(255,255,255,0)"}, {"offset": 0.10625, "color": "#fff"}, {"offset": 0.125, "color": "#fff"},
                        {"offset": 0.125, "color": "rgba(255,255,255,0)"}, {"offset": 0.1375, "color": "rgba(255,255,255,0)"}, {"offset": 0.1375, "color": "#fff"}, {"offset": 0.15625, "color": "#fff"},
                        {"offset": 0.15625, "color": "rgba(255,255,255,0)"}, {"offset": 0.16875, "color": "rgba(255,255,255,0)"}, {"offset": 0.16875, "color": "#fff"}, {"offset": 0.1875, "color": "#fff"},
                        {"offset": 0.1875, "color": "rgba(255,255,255,0)"}, {"offset": 0.2, "color": "rgba(255,255,255,0)"}, {"offset": 0.2, "color": "#fff"}, {"offset": 0.21875, "color": "#fff"},
                        {"offset": 0.21875, "color": "rgba(255,255,255,0)"}, {"offset": 0.23125, "color": "rgba(255,255,255,0)"}, {"offset": 0.23125, "color": "#fff"}, {"offset": 0.25, "color": "#fff"},
                        {"offset": 0.25, "color": "rgba(255,255,255,0)"}, {"offset": 0.2625, "color": "rgba(255,255,255,0)"}, {"offset": 0.2625, "color": "#fff"}, {"offset": 0.28125, "color": "#fff"},
                        {"offset": 0.28125, "color": "rgba(255,255,255,0)"}, {"offset": 0.29375, "color": "rgba(255,255,255,0)"}, {"offset": 0.29375, "color": "#fff"}, {"offset": 0.3125, "color": "#fff"},
                        {"offset": 0.3125, "color": "rgba(255,255,255,0)"}, {"offset": 0.325, "color": "rgba(255,255,255,0)"}, {"offset": 0.325, "color": "#fff"}, {"offset": 0.34375, "color": "#fff"},
                        {"offset": 0.34375, "color": "rgba(255,255,255,0)"}, {"offset": 0.35625, "color": "rgba(255,255,255,0)"}, {"offset": 0.35625, "color": "#fff"}, {"offset": 0.375, "color": "#fff"},
                        {"offset": 0.375, "color": "rgba(255,255,255,0)"}, {"offset": 0.3875, "color": "rgba(255,255,255,0)"}, {"offset": 0.3875, "color": "#fff"}, {"offset": 0.40625, "color": "#fff"},
                        {"offset": 0.40625, "color": "rgba(255,255,255,0)"}, {"offset": 0.41875, "color": "rgba(255,255,255,0)"}, {"offset": 0.41875, "color": "#fff"}, {"offset": 0.4375, "color": "#fff"},
                        {"offset": 0.4375, "color": "rgba(255,255,255,0)"}, {"offset": 0.45, "color": "rgba(255,255,255,0)"}, {"offset": 0.45, "color": "#fff"}, {"offset": 0.46875, "color": "#fff"},
                        {"offset": 0.46875, "color": "rgba(255,255,255,0)"}, {"offset": 0.48125, "color": "rgba(255,255,255,0)"}, {"offset": 0.48125, "color": "#fff"}, {"offset": 0.5, "color": "#fff"},
                        {"offset": 0.5, "color": "rgba(255,255,255,0)"}, {"offset": 0.5125, "color": "rgba(255,255,255,0)"}, {"offset": 0.5125, "color": "#fff"}, {"offset": 0.53125, "color": "#fff"},
                        {"offset": 0.53125, "color": "rgba(255,255,255,0)"}, {"offset": 0.54375, "color": "rgba(255,255,255,0)"}, {"offset": 0.54375, "color": "#fff"}, {"offset": 0.5625, "color": "#fff"},
                        {"offset": 0.5625, "color": "rgba(255,255,255,0)"}, {"offset": 0.575, "color": "rgba(255,255,255,0)"}, {"offset": 0.575, "color": "#fff"}, {"offset": 0.59375, "color": "#fff"},
                        {"offset": 0.59375, "color": "rgba(255,255,255,0)"}, {"offset": 0.60625, "color": "rgba(255,255,255,0)"}, {"offset": 0.60625, "color": "#fff"}, {"offset": 0.625, "color": "#fff"},
                        {"offset": 0.625, "color": "rgba(255,255,255,0)"}, {"offset": 0.6375, "color": "rgba(255,255,255,0)"}, {"offset": 0.6375, "color": "#fff"}, {"offset": 0.65625, "color": "#fff"},
                        {"offset": 0.65625, "color": "rgba(255,255,255,0)"}, {"offset": 0.66875, "color": "rgba(255,255,255,0)"}, {"offset": 0.66875, "color": "#fff"}, {"offset": 0.6875, "color": "#fff"},
                        {"offset": 0.6875, "color": "rgba(255,255,255,0)"}, {"offset": 0.7, "color": "rgba(255,255,255,0)"}, {"offset": 0.7, "color": "#fff"}, {"offset": 0.71875, "color": "#fff"},
                        {"offset": 0.71875, "color": "rgba(255,255,255,0)"}, {"offset": 0.73125, "color": "rgba(255,255,255,0)"}, {"offset": 0.73125, "color": "#fff"}, {"offset": 0.75, "color": "#fff"},
                        {"offset": 0.75, "color": "rgba(255,255,255,0)"}, {"offset": 0.7625, "color": "rgba(255,255,255,0)"}, {"offset": 0.7625, "color": "#fff"}, {"offset": 0.78125, "color": "#fff"},
                        {"offset": 0.78125, "color": "rgba(255,255,255,0)"}, {"offset": 0.79375, "color": "rgba(255,255,255,0)"}, {"offset": 0.79375, "color": "#fff"}, {"offset": 0.8125, "color": "#fff"},
                        {"offset": 0.8125, "color": "rgba(255,255,255,0)"}, {"offset": 0.825, "color": "rgba(255,255,255,0)"}, {"offset": 0.825, "color": "#fff"}, {"offset": 0.84375, "color": "#fff"},
                        {"offset": 0.84375, "color": "rgba(255,255,255,0)"}, {"offset": 0.85625, "color": "rgba(255,255,255,0)"}, {"offset": 0.85625, "color": "#fff"}, {"offset": 0.875, "color": "#fff"},
                        {"offset": 0.875, "color": "rgba(255,255,255,0)"}, {"offset": 0.8875, "color": "rgba(255,255,255,0)"}, {"offset": 0.8875, "color": "#fff"}, {"offset": 0.90625, "color": "#fff"},
                        {"offset": 0.90625, "color": "rgba(255,255,255,0)"}, {"offset": 0.91875, "color": "rgba(255,255,255,0)"}, {"offset": 0.91875, "color": "#fff"}, {"offset": 0.9375, "color": "#fff"},
                        {"offset": 0.9375, "color": "rgba(255,255,255,0)"}, {"offset": 0.95, "color": "rgba(255,255,255,0)"}, {"offset": 0.95, "color": "#fff"}, {"offset": 0.96875, "color": "#fff"},
                        {"offset": 0.96875, "color": "rgba(255,255,255,0)"}, {"offset": 0.98125, "color": "rgba(255,255,255,0)"}, {"offset": 0.98125, "color": "#fff"}, {"offset": 1, "color": "#fff"}
                      ]}},
                      "value": "transparent"
                    }
                  }
                },
                {
                  "data": {"name": "err"},
                  "transform": [{"filter": "datum.site === 'Ste-Anne-de-Bellevue'"}],
                  "mark": {"type": "rule", "color": "black", "strokeWidth": 2.5},
                  "encoding": {"y": {"field": "lo", "type": "quantitative", "title": null}, "y2": {"field": "hi"}}
                },
                {
                  "data": {"name": "err"},
                  "transform": [{"filter": "datum.site === 'Ste-Anne-de-Bellevue'"}],
                  "mark": {"type": "tick", "color": "black", "thickness": 3, "size": 14},
                  "encoding": {"y": {"field": "lo", "type": "quantitative", "title": null}}
                },
                {
                  "data": {"name": "err"},
                  "transform": [{"filter": "datum.site === 'Ste-Anne-de-Bellevue'"}],
                  "mark": {"type": "tick", "color": "black", "thickness": 3, "size": 14},
                  "encoding": {"y": {"field": "hi", "type": "quantitative", "title": null}}
                }
              ]
            }
          ]
        },
        {
          "width": 2916,
          "height": 29,
          "data": {"name": "bracket"},
          "layer": [
            {
              "mark": {"type": "rule", "color": "#404040", "strokeWidth": 2.5},
              "encoding": {
                "x": {"datum": -0.0648, "type": "quantitative", "scale": {"domain": [0, 1]}, "axis": null},
                "y": {"datum": 0, "type": "quantitative", "scale": {"domain": [0, 1]}, "axis": null},
                "y2": {"datum": 1}
              }
            },
            {
              "mark": {"type": "rule", "color": "#404040", "strokeWidth": 2.5},
              "encoding": {
                "x": {"datum": -0.0648, "type": "quantitative", "scale": {"domain": [0, 1]}, "axis": null},
                "x2": {"datum": 0.4366},
                "y": {"datum": 0.5, "type": "quantitative", "scale": {"domain": [0, 1]}, "axis": null}
              }
            },
            {
              "mark": {"type": "rule", "color": "#404040", "strokeWidth": 2.5},
              "encoding": {
                "x": {"datum": 0.5158, "type": "quantitative", "scale": {"domain": [0, 1]}, "axis": null},
                "x2": {"datum": 0.999},
                "y": {"datum": 0.5, "type": "quantitative", "scale": {"domain": [0, 1]}, "axis": null}
              }
            },
            {
              "mark": {"type": "text", "font": "Lato", "fontSize": 50, "fontWeight": "bold", "color": "black", "align": "center", "baseline": "alphabetic", "dy": 15},
              "encoding": {
                "text": {"field": "label"},
                "x": {"datum": 0.4756, "type": "quantitative", "scale": {"domain": [0, 1]}, "axis": null},
                "y": {"datum": 0.5, "type": "quantitative", "scale": {"domain": [0, 1]}, "axis": null}
              }
            }
          ]
        }
      ]
    }
  ]
}
